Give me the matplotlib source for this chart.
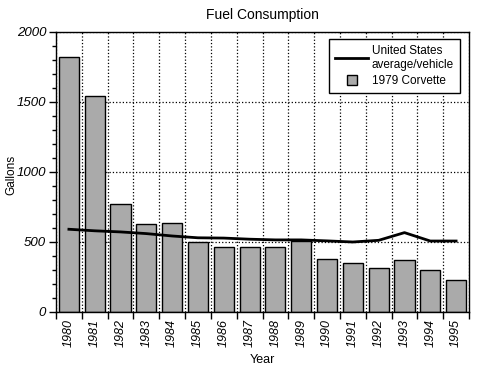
import numpy as np
import matplotlib.pyplot as plt
from matplotlib.lines import Line2D
from matplotlib.ticker import MultipleLocator, FixedLocator

years = ['1980', '1981', '1982', '1983', '1984', '1985', '1986', '1987',
         '1988', '1989', '1990', '1991', '1992', '1993', '1994', '1995']
corvette = [1820, 1542, 774, 631, 638, 503, 467, 467,
            467, 505, 382, 347, 311, 375, 299, 228]
us_average = [591, 580, 572, 560, 543, 530, 528, 520,
              515, 515, 508, 500, 512, 567, 507, 507]

plt.rcParams['font.family'] = ['Liberation Sans', 'DejaVu Sans']

fig = plt.figure(figsize=(4.86, 3.74), dpi=100)
ax = fig.add_axes([56 / 486, 1 - 312 / 374, 413 / 486, 280 / 374])

x = np.arange(len(years))
ax.bar(x, corvette, width=0.78, color='#aaaaaa', edgecolor='black',
       linewidth=1, zorder=2)
ax.plot(x, us_average, color='black', linewidth=2, zorder=3)

ax.set_xlim(-0.5, len(years) - 0.5)
ax.set_ylim(0, 2000)

# ticks on category boundaries, labels in the middle
ax.xaxis.set_major_locator(FixedLocator(np.arange(-0.5, len(years))))
ax.xaxis.set_minor_locator(FixedLocator(x))
ax.set_xticklabels([], minor=False)
ax.set_xticklabels(years, minor=True, rotation=90, fontstyle='italic', fontsize=9)
ax.tick_params(axis='x', which='minor', length=0, pad=5)
ax.tick_params(axis='x', which='major', length=5, width=1, direction='out')

ax.yaxis.set_major_locator(MultipleLocator(500))
ax.yaxis.set_minor_locator(MultipleLocator(100))
ax.tick_params(axis='y', which='major', length=5, width=1, labelsize=9.5, pad=2)
ax.tick_params(axis='y', which='minor', length=3, width=1)
for lbl in ax.get_yticklabels():
    lbl.set_fontstyle('italic')

ax.grid(axis='x', which='major', color='black', linestyle=':', linewidth=0.9, zorder=1)
ax.grid(axis='y', which='major', color='black', linestyle=':', linewidth=0.9, zorder=1)
ax.set_axisbelow(True)
for sp in ax.spines.values():
    sp.set_linewidth(1)

ax.set_title('Fuel Consumption', fontsize=10, pad=9)
ax.set_xlabel('Year', fontsize=9, labelpad=5)
ax.set_ylabel('Gallons', fontsize=8.5, va='center')
ax.yaxis.set_label_coords(-0.108, 0.49)

handles = [
    Line2D([], [], color='black', linewidth=2),
    Line2D([], [], marker='s', linestyle='none', markersize=7,
           markerfacecolor='#aaaaaa', markeredgecolor='black'),
]
leg = ax.legend(handles, ['United States\naverage/vehicle', '1979 Corvette'],
                loc='upper right', bbox_to_anchor=(460 / 486, 1 - 39 / 374),
                bbox_transform=fig.transFigure, borderaxespad=0,
                fontsize=8.5, fancybox=False, framealpha=1, edgecolor='black',
                handlelength=2.8, handletextpad=0.3, labelspacing=0.4,
                borderpad=0.5)
leg.get_frame().set_linewidth(1)

fig.savefig('out.png', dpi=100)
